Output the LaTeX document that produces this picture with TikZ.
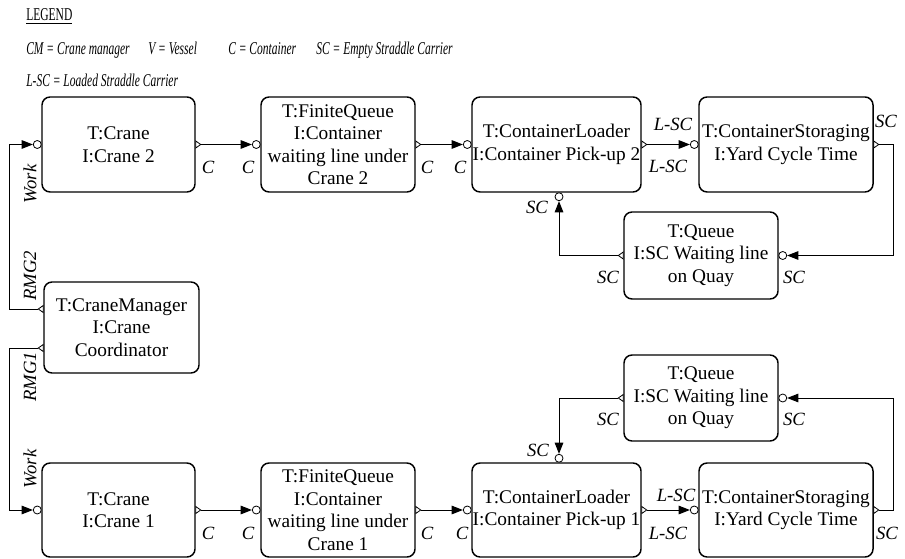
\documentclass[tikz,border=0pt]{standalone}
\usepackage{fontspec}
\setmainfont{Liberation Serif}
\usetikzlibrary{arrows.meta}
\begin{document}
\begin{tikzpicture}[x=0.75pt,y=0.75pt,
  blk/.style={draw, line width=1.1pt, rounded corners=6pt, align=center,
    inner sep=0pt, font=\fontsize{14.5}{16.9}\selectfont},
  inport/.style={circle, draw, line width=0.6pt, fill=white, inner sep=0pt, minimum size=6pt},
  flow/.style={draw, line width=0.75pt, -{Triangle[length=8.5pt,width=6.5pt]}},
  lbl/.style={font=\fontsize{14}{16}\selectfont\itshape, inner sep=0pt},
  vlbl/.style={lbl, rotate=90},
  leg/.style={anchor=base west, inner sep=0pt, font=\fontsize{13.5}{16}\selectfont},
  outport/.pic={\draw[line width=0.6pt, fill=white] (0,3.5) -- (5,0) -- (0,-3.5) -- cycle;}
]
\useasboundingbox (0,0) rectangle (905,-559);

% legend
\node[leg] (legT)  at (26,-21) {\scalebox{0.64}[1]{\underline{LEGEND}}};
\node[leg] (legCM) at (26,-55) {\scalebox{0.64}[1]{\itshape CM = Crane manager}};
\node[leg] (legV)  at (148,-55) {\scalebox{0.64}[1]{\itshape V = Vessel}};
\node[leg] (legC)  at (228,-55) {\scalebox{0.64}[1]{\itshape C = Container}};
\node[leg] (legSC) at (316,-55) {\scalebox{0.64}[1]{\itshape SC = Empty Straddle Carrier}};
\node[leg] (legL)  at (26,-87) {\scalebox{0.64}[1]{\itshape L-SC = Loaded Straddle Carrier}};

% crane 2 line
\node[blk, minimum width=114.75pt, minimum height=71.25pt] (crane2) at (118.5,-144.5) {T:Crane\\I:Crane 2};
\node[blk, minimum width=115.5pt, minimum height=71.25pt] (fq2) at (338,-144.5) {T:FiniteQueue\\I:Container\\waiting line under\\Crane 2};
\node[blk, minimum width=126.75pt, minimum height=71.25pt] (cl2) at (556.5,-144.5) {T:ContainerLoader\\I:Container Pick-up 2};
\node[blk, minimum width=130.5pt, minimum height=71.25pt] (cs2) at (786,-144.5) {T:ContainerStoraging\\I:Yard Cycle Time};
\node[blk, minimum width=115.5pt, minimum height=65.25pt] (q2) at (701,-255.5) {T:Queue\\I:SC Waiting line\\on Quay};

% crane manager
\node[blk, minimum width=116.25pt, minimum height=68.25pt] (cm) at (121.5,-327.5) {T:CraneManager\\I:Crane\\Coordinator};

% crane 1 line
\node[blk, minimum width=115.5pt, minimum height=64.5pt] (q1) at (701,-398) {T:Queue\\I:SC Waiting line\\on Quay};
\node[blk, minimum width=114.75pt, minimum height=70.5pt] (crane1) at (118.5,-510) {T:Crane\\I:Crane 1};
\node[blk, minimum width=115.5pt, minimum height=70.5pt] (fq1) at (338,-510) {T:FiniteQueue\\I:Container\\waiting line under\\Crane 1};
\node[blk, minimum width=126.75pt, minimum height=70.5pt] (cl1) at (556.5,-510) {T:ContainerLoader\\I:Container Pick-up 1};
\node[blk, minimum width=130.5pt, minimum height=70.5pt] (cs1) at (786,-510) {T:ContainerStoraging\\I:Yard Cycle Time};

% input ports
\node[inport] (crane2i) at ([shift={(-4,0)}]crane2.west) {};
\node[inport] (fq2i) at ([shift={(-4,0)}]fq2.west) {};
\node[inport] (cl2i) at ([shift={(-4,0)}]cl2.west) {};
\node[inport] (cs2i) at ([shift={(-4,0)}]cs2.west) {};
\node[inport] (q2i) at ([shift={(4,0)}]q2.east) {};
\node[inport] (cl2b) at ([shift={(2.5,-4)}]cl2.south) {};
\node[inport] (crane1i) at ([shift={(-4,0)}]crane1.west) {};
\node[inport] (fq1i) at ([shift={(-4,0)}]fq1.west) {};
\node[inport] (cl1i) at ([shift={(-4,0)}]cl1.west) {};
\node[inport] (cs1i) at ([shift={(-4,0)}]cs1.west) {};
\node[inport] (q1i) at ([shift={(4,0)}]q1.east) {};
\node[inport] (cl1t) at ([shift={(2.5,4)}]cl1.north) {};

% output ports
\coordinate (cmA) at ([shift={(0,18.5)}]cm.west);
\coordinate (cmB) at ([shift={(0,-20.5)}]cm.west);
\pic at (crane2.east) {outport};
\pic at (fq2.east) {outport};
\pic at (cl2.east) {outport};
\pic at (cs2.east) {outport};
\pic[rotate=180] at (q2.west) {outport};
\pic at (crane1.east) {outport};
\pic at (fq1.east) {outport};
\pic at (cl1.east) {outport};
\pic at (cs1.east) {outport};
\pic[rotate=180] at (q1.west) {outport};
\pic[rotate=180] at (cmA) {outport};
\pic[rotate=180] at (cmB) {outport};

% routing columns
\coordinate (lbus) at (9,0);
\coordinate (rbus) at (893,0);

% connectors
\draw[flow, shorten <=3.75pt] (crane2.east) -- (fq2i);
\draw[flow, shorten <=3.75pt] (fq2.east) -- (cl2i);
\draw[flow, shorten <=3.75pt] (cl2.east) -- (cs2i);
\draw[flow, shorten <=3.75pt] (cs2.east) -- (cs2.east -| rbus) |- (q2i);
\draw[flow, shorten <=3.75pt] (q2.west) -| (cl2b);

\draw[flow, shorten <=3.75pt] (crane1.east) -- (fq1i);
\draw[flow, shorten <=3.75pt] (fq1.east) -- (cl1i);
\draw[flow, shorten <=3.75pt] (cl1.east) -- (cs1i);
\draw[flow, shorten <=3.75pt] (cs1.east) -- (cs1.east -| rbus) |- (q1i);
\draw[flow, shorten <=3.75pt] (q1.west) -| (cl1t);

\draw[flow, shorten <=3.75pt] (cmA) -- (cmA -| lbus) |- (crane2i);
\draw[flow, shorten <=3.75pt] (cmB) -- (cmB -| lbus) |- (crane1i);

% flow labels, upper line
\node[lbl] (t1) at (208,-167) {C};
\node[lbl] (t2) at (248,-167) {C};
\node[lbl] (t3) at (427,-167) {C};
\node[lbl] (t4) at (460,-167) {C};
\node[lbl] (t5) at (673,-124) {L-SC};
\node[lbl] (t6) at (668,-166) {L-SC};
\node[lbl] (t7) at (886,-121) {SC};
\node[lbl] (t8) at (794,-277) {SC};
\node[lbl] (t9) at (608,-277) {SC};
\node[lbl] (t10) at (537,-207) {SC};

% flow labels, lower line
\node[lbl] (b1) at (208,-533) {C};
\node[lbl] (b2) at (248,-533) {C};
\node[lbl] (b3) at (427,-533) {C};
\node[lbl] (b4) at (462,-533) {C};
\node[lbl] (b5) at (676,-495) {L-SC};
\node[lbl] (b6) at (668,-533) {L-SC};
\node[lbl] (b7) at (887,-533) {SC};
\node[lbl] (b8) at (794,-419) {SC};
\node[lbl] (b9) at (608,-419) {SC};
\node[lbl] (b10) at (538,-450) {SC};

% crane manager links
\node[vlbl] (w2) at (30,-184) {Work};
\node[vlbl] (r2) at (30,-276) {RMG2};
\node[vlbl] (r1) at (30,-377) {RMG1};
\node[vlbl] (w1) at (30,-469) {Work};
\end{tikzpicture}
\end{document}
